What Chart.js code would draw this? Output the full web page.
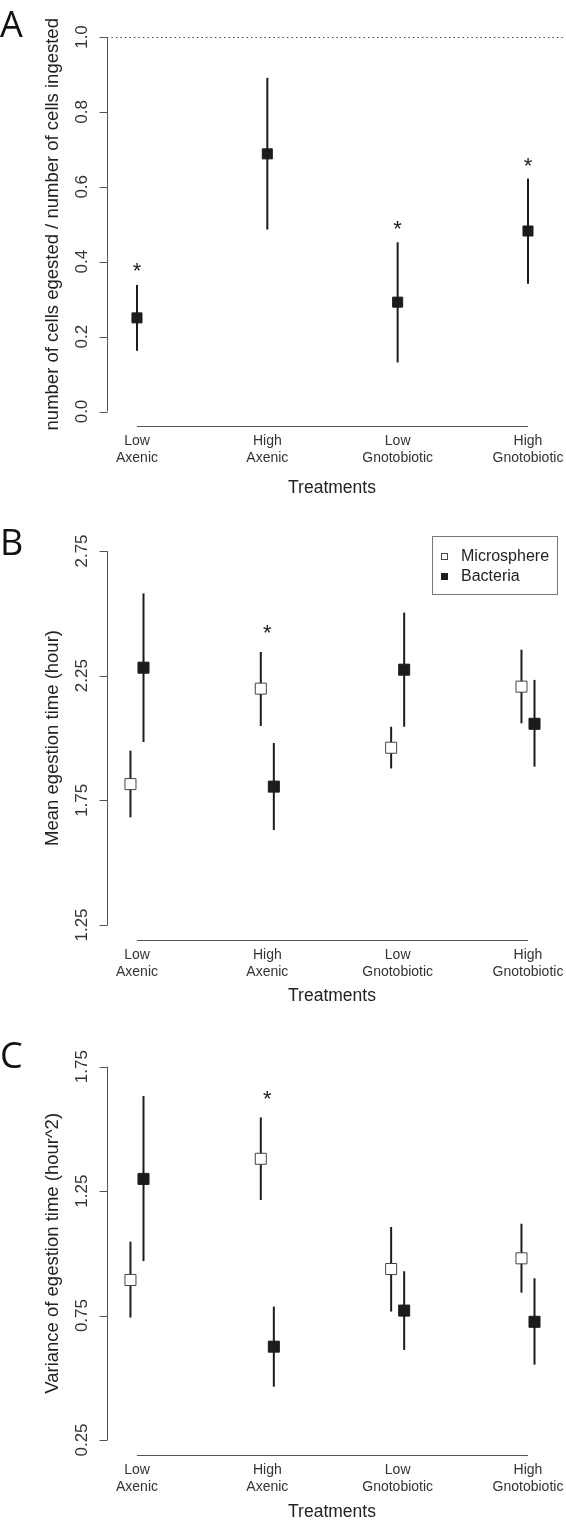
<!DOCTYPE html>
<html>
<head>
<meta charset="utf-8">
<script src="https://cdn.jsdelivr.net/npm/chart.js@4.4.1/dist/chart.umd.min.js"></script>
<style>
    html, body { margin: 0; padding: 0; background: #fff; }
    .panel { position: absolute; left: 0; }
</style>
</head>
<body>
<canvas id="panelA" class="panel" width="566" height="500" style="top:0"></canvas>
<canvas id="panelB" class="panel" width="566" height="520" style="top:500px"></canvas>
<canvas id="panelC" class="panel" width="566" height="502" style="top:1020px"></canvas>
<script>
// Treatments (two-line labels)
const catLine1 = ['Low', 'High', 'Low', 'High'];
const catLine2 = ['Axenic', 'Axenic', 'Gnotobiotic', 'Gnotobiotic'];
const seriesNames = ['Microsphere', 'Bacteria'];

// Panel A: egested / ingested ratio
const ratioMean = [0.250, 0.688, 0.292, 0.482];
const ratioLow  = [0.162, 0.486, 0.131, 0.341];
const ratioHigh = [0.338, 0.891, 0.452, 0.622];
const ratioStars = [0.388, null, 0.502, 0.669];
const ratioTicks = [0.0, 0.2, 0.4, 0.6, 0.8, 1.0];

// Panel B: mean egestion time (hour)
const meanMicro   = [1.815, 2.198, 1.961, 2.206];
const meanMicroLo = [1.682, 2.048, 1.878, 2.059];
const meanMicroHi = [1.949, 2.345, 2.045, 2.354];
const meanBact    = [2.282, 1.805, 2.274, 2.057];
const meanBactLo  = [1.984, 1.631, 2.045, 1.885];
const meanBactHi  = [2.580, 1.980, 2.503, 2.233];
const meanStars = [null, 2.440, null, null];
const meanTicks = [1.25, 1.75, 2.25, 2.75];

// Panel C: variance of egestion time (hour^2)
const varMicro   = [0.893, 1.380, 0.937, 0.980];
const varMicroLo = [0.742, 1.214, 0.766, 0.842];
const varMicroHi = [1.047, 1.546, 1.106, 1.119];
const varBact    = [1.299, 0.625, 0.770, 0.725];
const varBactLo  = [0.969, 0.464, 0.612, 0.553];
const varBactHi  = [1.632, 0.786, 0.928, 0.900];
const varStars = [null, 1.640, null, null];
const varTicks = [0.25, 0.75, 1.25, 1.75];

const FONT = '"Liberation Sans", Arial, Helvetica, sans-serif';
const LETTER_FONT = '"Open Sans", "Noto Sans", sans-serif';
const INK = '#1c1c1c';
const AXIS = '#555';
const SHIFT = 0.05;

function toPoints(values, shift) {
    return values.map((v, i) => ({ x: i + 1 + shift, y: v }));
}

function rPlotPlugin(spec) {
    return {
        id: 'rPlot' + spec.letter,
        beforeDatasetsDraw(chart) {
            const { ctx, scales: { x, y } } = chart;
            ctx.save();
            // dotted reference line
            if (spec.refLine !== undefined) {
                const py = Math.round(y.getPixelForValue(spec.refLine)) + 0.5;
                ctx.strokeStyle = '#333';
                ctx.lineWidth = 1.2;
                ctx.setLineDash([1.3, 3.2]);
                ctx.beginPath();
                ctx.moveTo(chart.chartArea.left, py);
                ctx.lineTo(chart.width, py);
                ctx.stroke();
                ctx.setLineDash([]);
            }
            // error bars
            ctx.strokeStyle = INK;
            ctx.lineWidth = 2;
            spec.bars.forEach(bar => {
                bar.lo.forEach((lo, i) => {
                    const px = x.getPixelForValue(i + 1 + bar.shift);
                    ctx.beginPath();
                    ctx.moveTo(px, y.getPixelForValue(lo));
                    ctx.lineTo(px, y.getPixelForValue(bar.hi[i]));
                    ctx.stroke();
                });
            });
            ctx.restore();
        },
        afterDraw(chart) {
            const { ctx, chartArea, scales: { x, y } } = chart;
            ctx.save();

            // y axis (R style, spans first..last tick)
            const x0 = Math.round(chartArea.left) + 0.5;
            const ticks = spec.ticks;
            ctx.strokeStyle = AXIS;
            ctx.lineWidth = 1;
            ctx.beginPath();
            ctx.moveTo(x0, y.getPixelForValue(ticks[0]));
            ctx.lineTo(x0, y.getPixelForValue(ticks[ticks.length - 1]));
            ticks.forEach(t => {
                const py = Math.round(y.getPixelForValue(t)) + 0.5;
                ctx.moveTo(x0 - 8, py);
                ctx.lineTo(x0, py);
            });
            ctx.stroke();

            ctx.fillStyle = '#333';
            ctx.font = '17px ' + FONT;
            ctx.textAlign = 'center';
            ctx.textBaseline = 'alphabetic';
            ticks.forEach(t => {
                ctx.save();
                ctx.translate(87, y.getPixelForValue(t));
                ctx.rotate(-Math.PI / 2);
                ctx.fillText(t.toFixed(spec.decimals), 0, 0);
                ctx.restore();
            });

            // y title
            ctx.save();
            ctx.fillStyle = '#222';
            ctx.font = '18.5px ' + FONT;
            ctx.translate(58, (y.getPixelForValue(ticks[0]) + y.getPixelForValue(ticks[ticks.length - 1])) / 2);
            ctx.rotate(-Math.PI / 2);
            ctx.fillText(spec.yTitle, 0, 0);
            ctx.restore();

            // x axis line from first to last category
            const yb = Math.round(chartArea.bottom) + 0.5;
            ctx.beginPath();
            ctx.moveTo(x.getPixelForValue(1), yb);
            ctx.lineTo(x.getPixelForValue(catLine1.length), yb);
            ctx.stroke();

            // category labels
            ctx.fillStyle = '#333';
            ctx.font = '14px ' + FONT;
            ctx.textBaseline = 'middle';
            catLine1.forEach((c, i) => {
                const px = x.getPixelForValue(i + 1);
                ctx.fillText(c, px, chartArea.bottom + 15);
                ctx.fillText(catLine2[i], px, chartArea.bottom + 32);
            });

            // x title
            ctx.fillStyle = '#222';
            ctx.font = '17.5px ' + FONT;
            ctx.fillText('Treatments', 332, chartArea.bottom + spec.xTitleGap);

            // significance stars
            ctx.fillStyle = INK;
            ctx.font = '22px ' + FONT;
            ctx.textBaseline = 'alphabetic';
            spec.stars.forEach((s, i) => {
                if (s === null) return;
                ctx.fillText('*', x.getPixelForValue(i + 1), y.getPixelForValue(s) + 12);
            });

            // panel letter
            ctx.fillStyle = '#111';
            ctx.font = '36px ' + LETTER_FONT;
            ctx.textAlign = 'left';
            ctx.fillText(spec.letter, 0, spec.letterBase);

            // legend
            if (spec.legend) {
                const lg = spec.legend;
                ctx.strokeStyle = '#777';
                ctx.lineWidth = 1;
                ctx.strokeRect(lg.x + 0.5, lg.y + 0.5, lg.w, lg.h);
                ctx.font = '16px ' + FONT;
                ctx.textBaseline = 'middle';
                seriesNames.forEach((name, k) => {
                    const cy = lg.y + 20 + k * 20;
                    if (k === 0) {
                        ctx.fillStyle = '#fff';
                        ctx.strokeStyle = '#444';
                        ctx.fillRect(lg.x + 9, cy - 3, 6, 6);
                        ctx.strokeRect(lg.x + 9.5, cy - 2.5, 6, 6);
                    } else {
                        ctx.fillStyle = INK;
                        ctx.fillRect(lg.x + 9, cy - 3, 7, 7);
                    }
                    ctx.fillStyle = '#222';
                    ctx.fillText(name, lg.x + 29, cy + 1);
                });
            }
            ctx.restore();
        }
    };
}

function makePanel(canvasId, spec) {
    const ctx = document.getElementById(canvasId).getContext('2d');
    const datasets = spec.series.map(s => ({
        data: toPoints(s.values, s.shift),
        pointStyle: 'rect',
        pointRadius: spec.radius,
        pointHoverRadius: spec.radius,
        pointBackgroundColor: s.open ? '#fff' : INK,
        pointBorderColor: s.open ? '#444' : INK,
        pointBorderWidth: 1,
        showLine: false
    }));
    return new Chart(ctx, {
        type: 'scatter',
        data: { datasets },
        options: {
            responsive: false,
            animation: false,
            devicePixelRatio: 1,
            layout: {
                autoPadding: false,
                padding: { left: 107, right: 0, top: spec.top, bottom: spec.bottom }
            },
            scales: {
                x: { type: 'linear', min: 0.77, max: 4.2916, display: false },
                y: { type: 'linear', min: spec.yMin, max: spec.yMax, display: false }
            },
            plugins: { legend: { display: false }, tooltip: { enabled: false } },
            clip: false
        },
        plugins: [rPlotPlugin(spec)]
    });
}

makePanel('panelA', {
    letter: 'A', letterBase: 37,
    top: 37, bottom: 74, yMin: -0.0387, yMax: 1.0,
    ticks: ratioTicks, decimals: 1, refLine: 1.0,
    yTitle: 'number of cells egested / number of cells ingested',
    xTitleGap: 62, radius: 7.1,
    series: [{ values: ratioMean, shift: 0, open: false }],
    bars: [{ lo: ratioLow, hi: ratioHigh, shift: 0 }],
    stars: ratioStars
});

makePanel('panelB', {
    letter: 'B', letterBase: 55,
    top: 51, bottom: 80, yMin: 1.1898, yMax: 2.75,
    ticks: meanTicks, decimals: 2,
    yTitle: 'Mean egestion time (hour)',
    xTitleGap: 56, radius: 7.8,
    series: [
        { values: meanMicro, shift: -SHIFT, open: true },
        { values: meanBact, shift: SHIFT, open: false }
    ],
    bars: [
        { lo: meanMicroLo, hi: meanMicroHi, shift: -SHIFT },
        { lo: meanBactLo, hi: meanBactHi, shift: SHIFT }
    ],
    stars: meanStars,
    legend: { x: 432, y: 36, w: 125, h: 58 }
});

makePanel('panelC', {
    letter: 'C', letterBase: 48,
    top: 46.7, bottom: 67, yMin: 0.1897, yMax: 1.75,
    ticks: varTicks, decimals: 2,
    yTitle: 'Variance of egestion time (hour^2)',
    xTitleGap: 57, radius: 7.8,
    series: [
        { values: varMicro, shift: -SHIFT, open: true },
        { values: varBact, shift: SHIFT, open: false }
    ],
    bars: [
        { lo: varMicroLo, hi: varMicroHi, shift: -SHIFT },
        { lo: varBactLo, hi: varBactHi, shift: SHIFT }
    ],
    stars: varStars
});
</script>
</body>
</html>
